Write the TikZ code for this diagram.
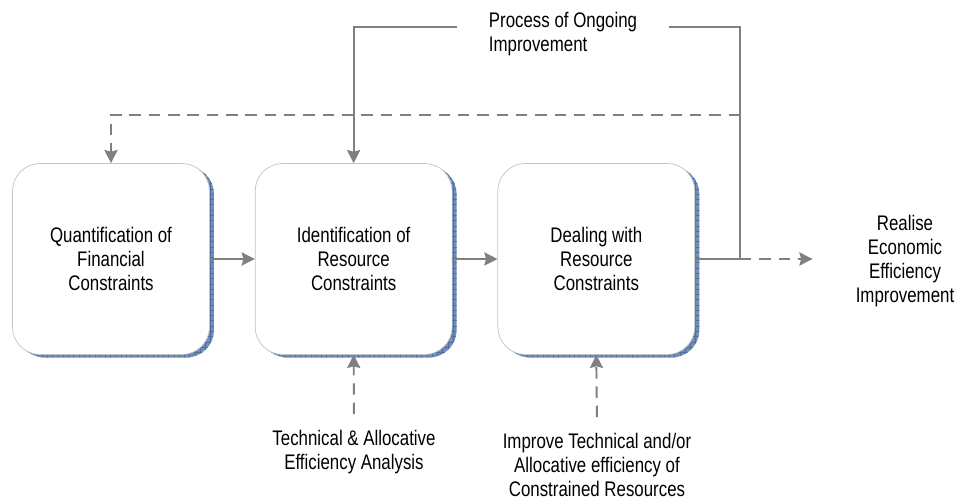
\documentclass[tikz,border=0pt]{standalone}
\usepackage{fontspec}
\setmainfont{Liberation Sans}[FakeStretch=0.8]
\usepackage{tikz}
\usetikzlibrary{arrows.meta, positioning, shadows, patterns}
\definecolor{linegray}{RGB}{128,128,128}
\definecolor{boxgray}{RGB}{195,195,195}
\definecolor{shadowblue}{RGB}{112,142,186}
\definecolor{gridblue}{RGB}{80,110,160}
\tikzstyle{block} = [rectangle, rounded corners=0.55cm, draw=boxgray, fill=white, minimum width=3.94cm, minimum height=3.82cm, align=center, font=\fontsize{12}{13.6}\selectfont, general shadow={fill=shadowblue, shadow xshift=0.09cm, shadow yshift=-0.06cm}, general shadow={pattern=grid, pattern color=gridblue, shadow xshift=0.09cm, shadow yshift=-0.06cm}]
\tikzstyle{note} = [align=center, font=\fontsize{12}{13.6}\selectfont]
\tikzstyle{arrow} = [line width=1.1pt, draw=linegray, -{Stealth[length=7.5pt, width=7.5pt, inset=1pt, fill=linegray]}]
\tikzstyle{dasharrow} = [arrow, dash pattern=on 6.5pt off 4.5pt]

\begin{document}
\begin{tikzpicture}[x=0.02cm, y=-0.02cm]
    \useasboundingbox (0,0) rectangle (957,500);

    % Process boxes
    \node[block] (quant) at (111,259) {Quantification of\\Financial\\Constraints};
    \node[block, right=0.9cm of quant] (ident) {Identification of\\Resource\\Constraints};
    \node[block, right=0.9cm of ident] (deal) {Dealing with\\Resource\\Constraints};

    % Outcome and inputs
    \node[note] (real) at (905,261) {Realise\\Economic\\Efficiency\\Improvement};
    \node[note] (tech) at (354,452) {Technical \& Allocative\\Efficiency Analysis};
    \node[note] (impr) at (597,465) {Improve Technical and/or\\Allocative efficiency of\\Constrained Resources};

    % Loop corners
    \coordinate (loop) at (740,259);
    \coordinate (top) at (740,27);
    \coordinate (fb) at (740,115);

    % Connectors
    \draw[arrow] (quant) -- (ident);
    \draw[arrow] (ident) -- (deal);
    \draw[arrow] (deal.east) -- (loop) -- (top) -| (ident.north);
    \draw[dasharrow] (fb) -| (quant.north);
    \draw[dasharrow, shorten >=0.74cm] (loop) -- (loop -| real.west);
    \draw[dasharrow, shorten <=0.2cm] (tech.north) -- (ident.south);
    \draw[dasharrow, shorten <=0.2cm] (impr.north) -- (deal.south);

    % Loop label
    \node[note, fill=white, align=left, inner xsep=0.64cm] (proc) at (563,34) {Process of Ongoing\\Improvement};
\end{tikzpicture}
\end{document}
